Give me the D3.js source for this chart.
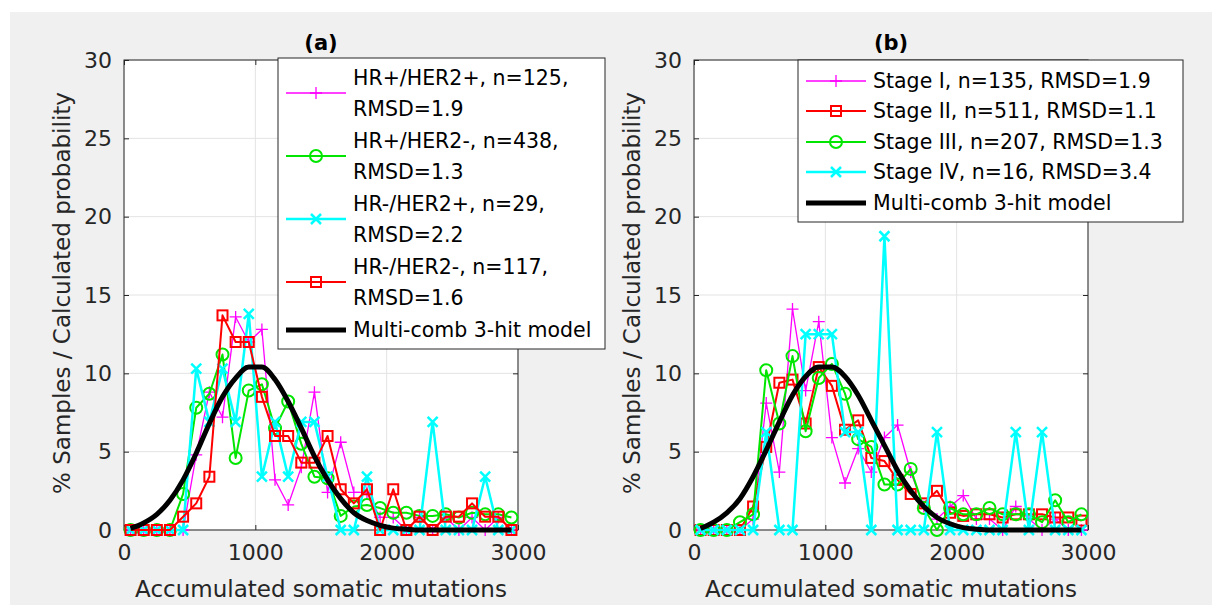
<!DOCTYPE html>
<html>
<head>
<meta charset="utf-8">
<script src="https://cdn.jsdelivr.net/npm/d3@7"></script>
<style>
  body { margin: 0; background: #fff; }
  svg { display: block; font-family: "DejaVu Sans", sans-serif; }
</style>
</head>
<body>
<svg id="chart" width="1212" height="605"></svg>
<script>
// bin centres (accumulated somatic mutations)
const bins = [50, 150, 250, 350, 450, 550, 650, 750, 850, 950, 1050, 1150, 1250, 1350, 1450,
  1550, 1650, 1750, 1850, 1950, 2050, 2150, 2250, 2350, 2450, 2550, 2650, 2750, 2850, 2950];

const xTicks = [0, 1000, 2000, 3000];
const yTicks = [0, 5, 10, 15, 20, 25, 30];

// panel (a): receptor subtypes
const hrPosHer2Pos = [0, 0, 0, 0, 0, 4.8, 8.8, 7.2, 13.6, 12.0, 12.8, 3.2, 1.6, 4.0, 8.8,
  2.4, 5.6, 2.4, 2.4, 0.8, 0.8, 0, 0.8, 0, 0.8, 0, 0.8, 0, 0.8, 0];
const hrPosHer2Neg = [0, 0, 0, 0, 2.3, 7.8, 8.7, 11.2, 4.6, 8.9, 9.3, 6.5, 8.2, 5.5, 3.4,
  3.3, 0.9, 1.5, 1.6, 1.4, 1.1, 1.1, 0.9, 0.9, 1.0, 0.8, 1.1, 1.0, 1.0, 0.8];
const hrNegHer2Pos = [0, 0, 0, 0, 0, 10.3, 6.9, 10.3, 6.9, 13.8, 3.4, 6.9, 3.4, 6.9, 6.9,
  3.4, 0, 0, 3.4, 0, 0, 0, 0, 6.9, 0, 0, 0, 3.4, 0, 0];
const hrNegHer2Neg = [0, 0, 0, 0, 0.85, 1.7, 3.4, 13.7, 12.0, 12.0, 8.5, 6.0, 6.0, 4.3, 4.3,
  6.0, 2.6, 1.7, 2.6, 0, 2.6, 0, 0.85, 0, 0.85, 0.85, 1.7, 0.85, 0.85, 0];
const modelA = [0.1, 0.45, 1.0, 1.9, 3.2, 4.9, 6.8, 8.5, 9.7, 10.4, 10.4, 9.6, 8.2, 6.5, 4.7,
  3.2, 2.0, 1.1, 0.6, 0.3, 0.12, 0.05, 0, 0, 0, 0, 0, 0, 0, 0];

// panel (b): stages
const stage1 = [0, 0, 0, 0, 0.7, 8.1, 3.7, 14.1, 8.9, 13.3, 5.9, 3.0, 5.2, 3.7, 5.9,
  6.7, 3.7, 1.5, 0.7, 1.5, 2.2, 0.7, 0.7, 0, 1.5, 0.7, 0, 0.7, 0, 0];
const stage2 = [0, 0, 0, 0, 1.5, 5.3, 9.4, 9.6, 6.8, 10.4, 9.2, 6.4, 7.0, 4.6, 4.4,
  3.2, 2.3, 1.7, 2.5, 1.1, 0.9, 1.0, 1.0, 0.8, 1.0, 1.0, 1.0, 0.8, 0.8, 0.6];
const stage3 = [0, 0, 0, 0.5, 1.0, 10.2, 6.8, 11.1, 6.3, 9.7, 10.6, 8.7, 5.8, 5.3, 2.9,
  2.9, 3.9, 1.4, 0, 1.4, 1.0, 1.0, 1.4, 1.0, 1.0, 1.0, 0.5, 1.9, 0.5, 1.0];
const stage4 = [0, 0, 0, 0, 0, 6.25, 0, 0, 12.5, 12.5, 12.5, 6.25, 6.25, 0, 18.75,
  0, 0, 0, 6.25, 0, 0, 0, 0, 0, 6.25, 0, 6.25, 0, 0, 0];
const modelB = [0.1, 0.5, 1.1, 2.0, 3.4, 5.1, 6.9, 8.6, 9.8, 10.4, 10.4, 9.8, 8.6, 7.0, 5.4,
  3.8, 2.5, 1.5, 0.8, 0.4, 0.15, 0.05, 0, 0, 0, 0, 0, 0, 0, 0];

const MAGENTA = "#ff00ff", GREEN = "#00e600", CYAN = "#00ffff", RED = "#ff0000";
const AXIS = "#262626";

const svg = d3.select("#chart");

// grey figure background
svg.append("rect")
  .attr("x", 10).attr("y", 12)
  .attr("width", 1202).attr("height", 593)
  .attr("fill", "#f0f0f0");

function drawMarker(g, type, cx, cy, color) {
  if (type === "square") {
    g.append("rect").attr("x", cx - 5).attr("y", cy - 5).attr("width", 10).attr("height", 10)
      .attr("fill", "none").attr("stroke", color).attr("stroke-width", 2);
  } else if (type === "circle") {
    g.append("circle").attr("cx", cx).attr("cy", cy).attr("r", 6)
      .attr("fill", "none").attr("stroke", color).attr("stroke-width", 2);
  } else if (type === "x") {
    g.append("path").attr("d", `M${cx - 5},${cy - 5}L${cx + 5},${cy + 5}M${cx - 5},${cy + 5}L${cx + 5},${cy - 5}`)
      .attr("stroke", color).attr("stroke-width", 2.5);
  } else if (type === "plus") {
    g.append("path").attr("d", `M${cx - 6},${cy}L${cx + 6},${cy}M${cx},${cy - 6}L${cx},${cy + 6}`)
      .attr("stroke", color).attr("stroke-width", 1.3);
  }
}

function drawPanel(p) {
  const x = d3.scaleLinear().domain([0, 3000]).range([p.left, p.left + 394]);
  const y = d3.scaleLinear().domain([0, 30]).range([530, 60]);
  const g = svg.append("g");

  // plot area
  g.append("rect")
    .attr("x", x(0)).attr("y", y(30))
    .attr("width", x(3000) - x(0)).attr("height", y(0) - y(30))
    .attr("fill", "#fff");

  // grid
  g.selectAll(".gy").data(yTicks).enter().append("line")
    .attr("x1", x(0)).attr("x2", x(3000))
    .attr("y1", d => y(d)).attr("y2", d => y(d))
    .attr("stroke", "#e3e3e3").attr("stroke-width", 1);
  g.selectAll(".gx").data(xTicks).enter().append("line")
    .attr("x1", d => x(d)).attr("x2", d => x(d))
    .attr("y1", y(0)).attr("y2", y(30))
    .attr("stroke", "#e3e3e3").attr("stroke-width", 1);

  // axes (ticks inward)
  const axB = g.append("g").attr("transform", `translate(0,${y(0)})`)
    .call(d3.axisBottom(x).tickValues(xTicks).tickSize(-5).tickPadding(14).tickFormat(d3.format("d")));
  const axL = g.append("g").attr("transform", `translate(${x(0)},0)`)
    .call(d3.axisLeft(y).tickValues(yTicks).tickSize(-5).tickPadding(12));
  g.append("g").attr("transform", `translate(0,${y(30)})`)
    .call(d3.axisTop(x).tickValues(xTicks).tickSize(-5).tickFormat(""));
  g.append("g").attr("transform", `translate(${x(3000)},0)`)
    .call(d3.axisRight(y).tickValues(yTicks).tickSize(-5).tickFormat(""));
  g.selectAll(".domain").remove();
  g.selectAll(".tick line").attr("stroke", AXIS);
  axB.selectAll("text").attr("font-size", 22).attr("fill", AXIS)
    .attr("font-family", "DejaVu Sans, sans-serif");
  axL.selectAll("text").attr("font-size", 22).attr("fill", AXIS)
    .attr("font-family", "DejaVu Sans, sans-serif");

  g.append("rect")
    .attr("x", x(0)).attr("y", y(30))
    .attr("width", x(3000) - x(0)).attr("height", y(0) - y(30))
    .attr("fill", "none").attr("stroke", AXIS).attr("stroke-width", 1);

  // series
  const line = d3.line().x((d, i) => x(bins[i])).y(d => y(d));
  p.series.forEach(s => {
    g.append("path").datum(s.values)
      .attr("d", line)
      .attr("fill", "none")
      .attr("stroke", s.color)
      .attr("stroke-width", s.lw)
      .attr("stroke-linejoin", "round");
    const mg = g.append("g");
    s.values.forEach((v, i) => drawMarker(mg, s.marker, x(bins[i]), y(v), s.color));
  });

  // model curve
  g.append("path").datum(p.model)
    .attr("d", d3.line().x((d, i) => x(bins[i])).y(d => y(d)).curve(d3.curveMonotoneX))
    .attr("fill", "none").attr("stroke", "#000").attr("stroke-width", 5)
    .attr("stroke-linejoin", "round");

  // labels
  g.append("text")
    .attr("x", (x(0) + x(3000)) / 2).attr("y", 589)
    .attr("text-anchor", "middle").attr("dominant-baseline", "central")
    .attr("font-size", 23).attr("fill", AXIS)
    .text("Accumulated somatic mutations");
  g.append("text")
    .attr("transform", `translate(${p.left - 62},293) rotate(-90)`)
    .attr("text-anchor", "middle").attr("dominant-baseline", "central")
    .attr("font-size", 23).attr("fill", AXIS)
    .text("% Samples / Calculated probability");
  g.append("text")
    .attr("x", (x(0) + x(3000)) / 2).attr("y", 43)
    .attr("text-anchor", "middle").attr("dominant-baseline", "central")
    .attr("font-size", 21).attr("font-weight", "bold").attr("fill", "#000")
    .text(p.title);

  // legend
  const L = p.legend;
  const lg = svg.append("g");
  lg.append("rect")
    .attr("x", L.x).attr("y", L.y).attr("width", L.w).attr("height", L.h)
    .attr("fill", "#fff").attr("stroke", AXIS).attr("stroke-width", 1);
  L.items.forEach(it => {
    lg.append("line")
      .attr("x1", L.x + 8).attr("x2", L.x + 68)
      .attr("y1", it.cy).attr("y2", it.cy)
      .attr("stroke", it.color).attr("stroke-width", it.lw);
    if (it.marker) drawMarker(lg, it.marker, L.x + 38, it.cy, it.color);
    const n = it.lines.length;
    it.lines.forEach((t, k) => {
      lg.append("text")
        .attr("x", L.x + 75)
        .attr("y", it.cy + (k - (n - 1) / 2) * 31)
        .attr("dominant-baseline", "central")
        .attr("font-size", 20.5).attr("fill", "#000")
        .text(t);
    });
  });
}

drawPanel({
  left: 124,
  title: "(a)",
  series: [
    { values: hrPosHer2Pos, color: MAGENTA, marker: "plus", lw: 1.3 },
    { values: hrPosHer2Neg, color: GREEN, marker: "circle", lw: 2 },
    { values: hrNegHer2Pos, color: CYAN, marker: "x", lw: 2.5 },
    { values: hrNegHer2Neg, color: RED, marker: "square", lw: 2 }
  ],
  model: modelA,
  legend: {
    x: 278, y: 58, w: 327, h: 291,
    items: [
      { lines: ["HR+/HER2+, n=125,", "RMSD=1.9"], color: MAGENTA, marker: "plus", lw: 1.3, cy: 93 },
      { lines: ["HR+/HER2-, n=438,", "RMSD=1.3"], color: GREEN, marker: "circle", lw: 2, cy: 156 },
      { lines: ["HR-/HER2+, n=29,", "RMSD=2.2"], color: CYAN, marker: "x", lw: 2.5, cy: 219 },
      { lines: ["HR-/HER2-, n=117,", "RMSD=1.6"], color: RED, marker: "square", lw: 2, cy: 282 },
      { lines: ["Multi-comb 3-hit model"], color: "#000", marker: null, lw: 5, cy: 330 }
    ]
  }
});

drawPanel({
  left: 694,
  title: "(b)",
  series: [
    { values: stage1, color: MAGENTA, marker: "plus", lw: 1.3 },
    { values: stage2, color: RED, marker: "square", lw: 2 },
    { values: stage3, color: GREEN, marker: "circle", lw: 2 },
    { values: stage4, color: CYAN, marker: "x", lw: 2.5 }
  ],
  model: modelB,
  legend: {
    x: 798, y: 60, w: 385, h: 162,
    items: [
      { lines: ["Stage I, n=135, RMSD=1.9"], color: MAGENTA, marker: "plus", lw: 1.3, cy: 81 },
      { lines: ["Stage II, n=511, RMSD=1.1"], color: RED, marker: "square", lw: 2, cy: 111 },
      { lines: ["Stage III, n=207, RMSD=1.3"], color: GREEN, marker: "circle", lw: 2, cy: 142 },
      { lines: ["Stage IV, n=16, RMSD=3.4"], color: CYAN, marker: "x", lw: 2.5, cy: 172 },
      { lines: ["Multi-comb 3-hit model"], color: "#000", marker: null, lw: 5, cy: 203 }
    ]
  }
});
</script>
</body>
</html>
